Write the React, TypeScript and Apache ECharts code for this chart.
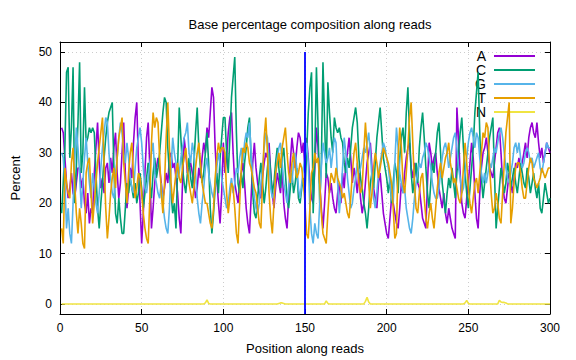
import React, { useEffect, useRef } from "react";
import * as echarts from "echarts";

const TITLE = "Base percentage composition along reads";
const X_NAME = "Position along reads";
const Y_NAME = "Percent";
const X_TICKS_INTERVAL = 50;
const Y_TICKS = [0, 10, 20, 30, 40, 50];
const BASES = ["A", "C", "G", "T", "N"];
const COLORS = ["#9400D3", "#009E73", "#56B4E9", "#E69F00", "#F0E442"];
const VLINE_X = 150;
const VLINE_Y = [-2, 50];

const A = [
  35, 34, 29, 24, 21, 23, 26, 22, 21, 24,
  27, 27, 23, 25, 20, 18, 22, 16, 19, 18,
  26, 31, 36, 28, 23, 25, 22, 27, 28, 24,
  29, 26, 31, 34, 26, 21, 24, 30, 36, 26,
  19, 23, 27, 25, 32, 37, 40, 28, 20, 12,
  18, 26, 33, 36, 27, 15, 19, 24, 27, 29,
  27, 24, 21, 23, 26, 24, 29, 30, 27, 28,
  25, 22, 17, 14, 24, 33, 30, 26, 27, 28,
  26, 24, 21, 23, 27, 25, 29, 32, 30, 35,
  33, 38, 43, 41, 31, 25, 20, 16, 22, 32,
  26, 29, 34, 37, 38, 30, 24, 22, 20, 24,
  26, 28, 24, 19, 16, 14, 21, 28, 32, 27,
  24, 22, 21, 25, 28, 30, 29, 32, 26, 22,
  19, 23, 26, 24, 22, 27, 20, 17, 15, 21,
  28, 33, 30, 27, 31, 34, 33, 30, 32, 26,
  33, 29, 24, 21, 20, 27, 35, 31, 24, 19,
  15, 20, 26, 25, 22, 24, 21, 19, 18, 22,
  24, 20, 26, 23, 28, 30, 33, 29, 24, 27,
  25, 22, 26, 21, 18, 20, 24, 28, 30, 32,
  27, 23, 21, 19, 24, 26, 22, 18, 16, 14,
  13, 17, 21, 20, 18, 16, 15, 19, 24, 22,
  26, 29, 31, 32, 27, 25, 28, 26, 24, 23,
  20, 17, 16, 15, 24, 32, 30, 27, 29, 30,
  26, 23, 21, 19, 22, 18, 16, 19, 17, 15,
  14, 13, 39, 33, 26, 20, 18, 17, 21, 24,
  28, 32, 29, 22, 17, 15, 22, 27, 30, 31,
  33, 30, 27, 26, 25, 28, 31, 34, 35, 30,
  24, 21, 20, 23, 26, 24, 22, 25, 28, 27,
  29, 26, 28, 30, 32, 29, 33, 35, 36, 34,
  33, 36, 32, 29, 31, 28, 30, 32, 31, 30,
];

const C = [
  18, 24, 31, 46, 47, 29, 35, 47, 20, 27,
  36, 48, 26, 30, 43, 32, 33, 35, 34, 35,
  34, 26, 19, 15, 20, 24, 29, 33, 36, 38,
  39, 40, 27, 18, 16, 21, 17, 14, 14, 19,
  24, 22, 25, 23, 21, 24, 20, 22, 26, 23,
  19, 22, 25, 28, 24, 21, 26, 29, 25, 27,
  30, 34, 38, 41, 40, 31, 26, 22, 18, 20,
  15, 27, 39, 33, 27, 24, 22, 26, 29, 25,
  23, 28, 34, 39, 31, 27, 24, 26, 30, 34,
  28, 19, 14, 18, 23, 26, 22, 29, 33, 37,
  37, 30, 26, 33, 41, 45, 49, 34, 24, 22,
  26, 23, 28, 31, 35, 37, 29, 22, 18, 17,
  21, 25, 28, 24, 20, 23, 27, 30, 26, 22,
  24, 28, 31, 27, 23, 29, 31, 26, 21, 19,
  23, 26, 22, 24, 27, 21, 20, 23, 25, 22,
  30, 38, 43, 46, 18, 29, 47, 35, 20, 28,
  48, 36, 25, 44, 38, 33, 30, 37, 35, 34,
  35, 33, 32, 28, 26, 29, 27, 31, 35, 37,
  39, 36, 29, 25, 23, 20, 18, 15, 19, 24,
  26, 23, 28, 33, 36, 39, 34, 29, 27, 25,
  22, 25, 20, 24, 28, 26, 22, 29, 33, 35,
  30, 38, 43, 34, 26, 22, 25, 28, 24, 31,
  35, 38, 33, 27, 22, 19, 24, 28, 26, 30,
  34, 36, 30, 24, 21, 18, 22, 25, 23, 27,
  24, 21, 26, 30, 34, 37, 31, 26, 22, 19,
  23, 27, 31, 38, 42, 46, 34, 25, 21, 24,
  27, 30, 33, 35, 37, 26, 15, 19, 23, 27,
  25, 22, 24, 28, 26, 23, 25, 27, 24, 22,
  25, 28, 26, 24, 23, 27, 25, 22, 24, 26,
  23, 21, 24, 19, 18, 21, 24, 22, 20, 21,
];

const G = [
  30, 29, 24, 15, 19, 14, 12, 20, 28, 35,
  31, 26, 19, 24, 29, 33, 28, 24, 21, 26,
  23, 20, 18, 22, 27, 31, 34, 37, 36, 30,
  25, 22, 21, 26, 29, 33, 36, 34, 30, 28,
  32, 29, 25, 23, 22, 27, 31, 33, 35, 32,
  27, 23, 22, 25, 28, 30, 32, 26, 24, 22,
  21, 24, 20, 17, 15, 14, 19, 27, 33, 30,
  28, 25, 26, 29, 31, 33, 34, 36, 30, 28,
  32, 30, 26, 21, 18, 16, 20, 23, 27, 29,
  26, 24, 22, 21, 24, 27, 30, 28, 25, 23,
  21, 19, 20, 23, 25, 22, 24, 27, 26, 29,
  31, 28, 32, 34, 33, 36, 30, 25, 21, 19,
  18, 20, 24, 27, 31, 34, 33, 28, 23, 21,
  22, 25, 29, 31, 32, 28, 24, 22, 20, 23,
  26, 24, 28, 30, 27, 23, 21, 24, 27, 29,
  32, 28, 19, 14, 12, 16, 14, 13, 20, 27,
  32, 30, 28, 29, 31, 27, 30, 33, 32, 24,
  18, 22, 27, 33, 30, 25, 22, 19, 20, 23,
  25, 28, 26, 27, 29, 31, 30, 32, 34, 30,
  25, 21, 19, 22, 26, 28, 30, 32, 31, 29,
  27, 24, 21, 20, 28, 35, 31, 26, 24, 22,
  23, 19, 17, 15, 14, 17, 21, 24, 26, 28,
  27, 29, 30, 32, 31, 29, 27, 24, 22, 21,
  21, 23, 26, 29, 31, 32, 30, 27, 29, 31,
  33, 34, 31, 27, 25, 22, 23, 26, 29, 32,
  34, 35, 33, 31, 34, 33, 29, 26, 24, 26,
  24, 26, 28, 27, 29, 31, 30, 32, 34, 35,
  33, 30, 27, 25, 24, 26, 28, 31, 32, 30,
  32, 29, 27, 28, 30, 31, 30, 28, 29, 27,
  28, 29, 30, 27, 26, 28, 30, 32, 31, 31,
];

const T = [
  15, 12, 27, 24, 22, 21, 28, 31, 24, 18,
  14, 19, 16, 12, 11, 26, 28, 29, 22, 16,
  20, 24, 28, 31, 34, 37, 28, 19, 13, 17,
  22, 25, 27, 23, 29, 33, 35, 37, 28, 24,
  20, 26, 30, 32, 25, 21, 23, 26, 25, 22,
  18, 15, 13, 12, 21, 32, 38, 35, 37, 36,
  29, 22, 18, 24, 33, 40, 31, 24, 20, 23,
  26, 28, 25, 24, 27, 29, 31, 27, 24, 22,
  20, 23, 27, 30, 32, 28, 24, 22, 20, 20,
  18, 16, 15, 19, 25, 29, 32, 30, 31, 31,
  30, 22, 18, 21, 24, 23, 19, 14, 12, 20,
  27, 31, 30, 32, 31, 28, 27, 25, 23, 22,
  19, 16, 15, 24, 33, 37, 30, 22, 17, 14,
  20, 26, 28, 30, 27, 31, 33, 35, 30, 26,
  24, 28, 30, 27, 25, 26, 28, 27, 24, 20,
  14, 13, 19, 26, 27, 30, 28, 29, 24, 18,
  14, 13, 12, 18, 23, 26, 25, 24, 27, 25,
  24, 23, 21, 22, 20, 18, 17, 21, 26, 30,
  32, 28, 24, 22, 23, 30, 36, 31, 24, 19,
  22, 27, 30, 28, 25, 27, 29, 31, 30, 29,
  28, 26, 24, 19, 13, 14, 29, 35, 31, 24,
  22, 26, 31, 37, 40, 32, 24, 19, 18, 22,
  25, 26, 21, 17, 15, 18, 20, 17, 15, 19,
  23, 26, 28, 25, 27, 29, 30, 32, 28, 26,
  24, 25, 23, 21, 20, 22, 27, 32, 28, 23,
  20, 18, 21, 24, 25, 22, 26, 30, 34, 33,
  36, 35, 27, 22, 18, 19, 22, 20, 17, 16,
  22, 28, 34, 37, 40, 16, 19, 24, 27, 28,
  28, 26, 23, 21, 21, 24, 27, 29, 28, 25,
  24, 23, 24, 25, 27, 26, 25, 26, 27, 27,
];

const N = [
  0, 0, 0, 0, 0, 0, 0, 0, 0, 0,
  0, 0, 0, 0, 0, 0, 0, 0, 0, 0,
  0, 0, 0, 0, 0, 0, 0, 0, 0, 0,
  0, 0, 0, 0, 0, 0, 0, 0, 0, 0,
  0, 0, 0, 0, 0, 0, 0, 0, 0, 0,
  0, 0, 0, 0, 0, 0, 0, 0, 0, 0,
  0, 0, 0, 0, 0, 0, 0, 0, 0, 0,
  0, 0, 0, 0, 0, 0, 0, 0, 0, 0,
  0, 0, 0, 0, 0, 0, 0, 0, 0.2, 0.8,
  0.1, 0, 0, 0, 0, 0, 0, 0, 0, 0,
  0, 0, 0, 0, 0, 0, 0, 0, 0, 0,
  0, 0, 0, 0, 0, 0, 0, 0, 0, 0,
  0, 0, 0, 0, 0, 0, 0, 0, 0, 0,
  0, 0, 0, 0.1, 0.2, 0.2, 0.1, 0, 0, 0,
  0, 0, 0, 0, 0, 0, 0, 0, 0, 0,
  0, 0, 0, 0, 0, 0, 0, 0, 0, 0,
  0, 0, 0.6, 0.1, 0, 0, 0, 0, 0, 0,
  0, 0, 0, 0, 0, 0, 0, 0, 0, 0,
  0, 0, 0, 0, 0, 0, 0.5, 1.3, 0.4, 0,
  0, 0, 0, 0, 0, 0, 0, 0, 0, 0,
  0, 0, 0, 0, 0, 0, 0, 0, 0, 0,
  0, 0, 0, 0, 0, 0, 0, 0, 0, 0,
  0, 0, 0, 0, 0, 0, 0, 0, 0, 0,
  0, 0, 0, 0, 0, 0, 0, 0, 0, 0,
  0, 0, 0, 0, 0, 0, 0, 0.2, 0.7, 0.1,
  0, 0, 0, 0, 0, 0, 0, 0, 0, 0,
  0, 0, 0, 0, 0, 0, 0, 0, 0.7, 0.4,
  0.3, 0.3, 0.2, 0, 0, 0, 0, 0, 0, 0,
  0, 0, 0, 0, 0, 0, 0, 0, 0, 0,
  0, 0, 0, 0, 0, 0, 0, 0, 0, 0,
];

const SERIES_VALUES = [A, C, G, T, N];

export default function App() {
  const ref = useRef<HTMLDivElement>(null);
  useEffect(() => {
    document.body.style.margin = "0";
    if (!ref.current) return;
    const chart = echarts.init(ref.current, null, { renderer: "svg" });
    const font = "'Liberation Sans', Arial, sans-serif";
    const splitLine = {
      show: true,
      lineStyle: { color: "#cccccc", type: [1, 3], width: 1 },
    };
    const axisLine = {
      show: true,
      onZero: false,
      lineStyle: { color: "#000", width: 1 },
    };
    const series: any[] = BASES.map((b, k) => ({
      name: b,
      type: "line",
      xAxisIndex: 0,
      yAxisIndex: 0,
      showSymbol: false,
      symbol: "none",
      lineStyle: { width: 1.6, color: COLORS[k] },
      itemStyle: { color: COLORS[k] },
      data: SERIES_VALUES[k].map((v, i) => [i + 1, v]),
    }));
    series.push({
      name: "vline",
      type: "line",
      showSymbol: false,
      symbol: "none",
      z: 5,
      lineStyle: { width: 1.8, color: "#0000FF" },
      data: VLINE_Y.map((y) => [VLINE_X, y]),
    });
    chart.setOption({
      animation: false,
      textStyle: { fontFamily: font },
      title: {
        text: TITLE,
        left: 305,
        top: 13,
        textAlign: "center",
        textStyle: { fontSize: 13, fontWeight: "normal", color: "#000", fontFamily: font },
      },
      grid: { left: 60, right: 26, top: 42, bottom: 45 },
      legend: {
        orient: "vertical",
        right: 36,
        top: 44,
        align: "right",
        icon: "rect",
        itemWidth: 41,
        itemHeight: 2,
        itemGap: 0,
        z: 1,
        selectedMode: false,
        data: BASES,
        textStyle: { fontSize: 14, lineHeight: 14, color: "#000", fontFamily: font, padding: [0, 3, 0, 0] },
      },
      xAxis: [
        {
          type: "value",
          min: 0,
          max: 300,
          interval: X_TICKS_INTERVAL,
          position: "bottom",
          axisLine,
          axisTick: { inside: true, length: 5, lineStyle: { color: "#000" } },
          axisLabel: { color: "#000", fontSize: 12, margin: 8, fontFamily: font },
          splitLine,
          name: X_NAME,
          nameLocation: "middle",
          nameGap: 28,
          nameTextStyle: { fontSize: 13, color: "#000", fontFamily: font },
        },
        {
          type: "value",
          min: 0,
          max: 300,
          interval: X_TICKS_INTERVAL,
          position: "top",
          axisLine,
          axisTick: { inside: true, length: 5, lineStyle: { color: "#000" } },
          axisLabel: { show: false },
          splitLine: { show: false },
        },
      ],
      yAxis: [
        {
          type: "value",
          min: -2,
          max: 52,
          position: "left",
          axisLine,
          axisTick: { inside: true, length: 5, customValues: Y_TICKS, lineStyle: { color: "#000" } },
          axisLabel: { color: "#000", fontSize: 12, margin: 8, customValues: Y_TICKS, fontFamily: font },
          splitLine,
          name: Y_NAME,
          nameLocation: "middle",
          nameGap: 38,
          nameRotate: 90,
          nameTextStyle: { fontSize: 13, color: "#000", fontFamily: font },
        },
        {
          type: "value",
          min: -2,
          max: 52,
          position: "right",
          axisLine,
          axisTick: { inside: true, length: 5, customValues: Y_TICKS, lineStyle: { color: "#000" } },
          axisLabel: { show: false, customValues: Y_TICKS },
          splitLine: { show: false },
        },
      ],
      series,
    });
    return () => chart.dispose();
  }, []);
  return <div ref={ref} style={{ width: 576, height: 360 }} />;
}
